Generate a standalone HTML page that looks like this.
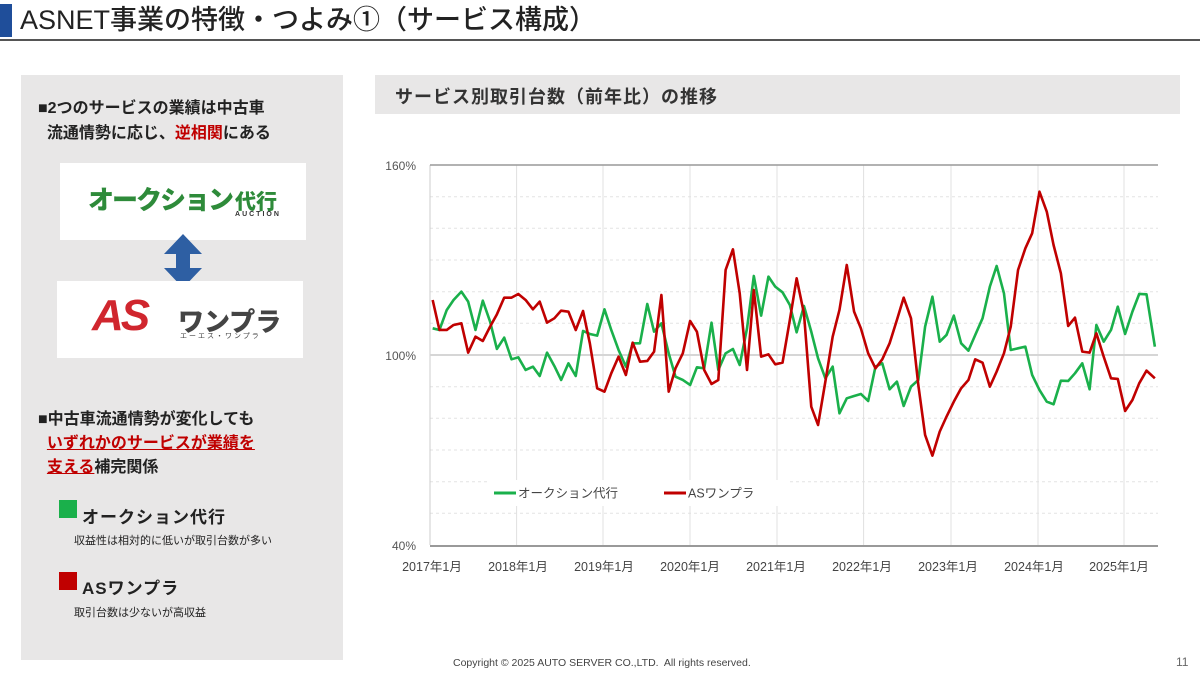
<!DOCTYPE html>
<html><head><meta charset="utf-8"><style>
body{margin:0;width:1200px;height:675px;background:#fff;position:relative;overflow:hidden;font-family:"Liberation Sans","Noto Sans CJK JP",sans-serif;color:#222}
.a{position:absolute;white-space:nowrap}
</style></head><body>
<div class="a" style="left:0;top:4px;width:12px;height:33px;background:#1f4e9a"></div>
<div class="a" style="left:20px;top:2px;font-size:27px;line-height:36px;color:#222;font-weight:500">ASNET事業の特徴・つよみ①（サービス構成）</div>
<div class="a" style="left:0;top:39px;width:1200px;height:2px;background:#555"></div>

<div class="a" style="left:21px;top:75px;width:322px;height:585px;background:#e8e7e7"></div>
<div class="a" style="left:38px;top:96px;font-size:16px;line-height:25px;font-weight:bold">■2つのサービスの業績は中古車<br>&nbsp;&nbsp;流通情勢に応じ、<span style="color:#c00000">逆相関</span>にある</div>
<div class="a" style="left:60px;top:163px;width:246px;height:77px;background:#fff"></div>
<div class="a" style="left:88px;top:182px;font-size:26px;font-weight:900;color:#2e8b3a;letter-spacing:-2px;line-height:36px">オークション<span style="display:inline-block;position:relative;font-size:21px;letter-spacing:0;margin-left:3px">代行<span style="position:absolute;left:0;top:26px;font-size:7px;color:#333;letter-spacing:2px;font-weight:bold;line-height:8px">AUCTION</span></span></div>
<svg class="a" style="left:160px;top:232px" width="46" height="58"><polygon points="23,2 42,22 30,22 30,36 42,36 23,56 4,36 16,36 16,22 4,22" fill="#2e5fa3"/></svg>
<div class="a" style="left:57px;top:281px;width:246px;height:77px;background:#fff"></div>
<div class="a" style="left:92px;top:292px;font-size:44px;font-weight:900;color:#d0262e;font-style:italic;letter-spacing:-3px;line-height:48px">AS</div>
<div class="a" style="left:178px;top:302px;font-size:26px;font-weight:900;color:#444">ワンプラ</div>
<div class="a" style="left:180px;top:331px;font-size:7px;color:#444;letter-spacing:2px">エーエス・ワンプラ</div>

<div class="a" style="left:38px;top:408px;font-size:16px;line-height:24px;font-weight:bold">■中古車流通情勢が変化しても<br>&nbsp;&nbsp;<span style="color:#c00000;text-decoration:underline">いずれかのサービスが業績を</span><br>&nbsp;&nbsp;<span style="color:#c00000;text-decoration:underline">支える</span>補完関係</div>
<div class="a" style="left:59px;top:500px;width:18px;height:18px;background:#1ab04b"></div>
<div class="a" style="left:82px;top:503px;font-size:17px;font-weight:bold;letter-spacing:1px">オークション代行</div>
<div class="a" style="left:74px;top:532px;font-size:11px">収益性は相対的に低いが取引台数が多い</div>
<div class="a" style="left:59px;top:572px;width:18px;height:18px;background:#c00000"></div>
<div class="a" style="left:82px;top:574px;font-size:17px;font-weight:bold;letter-spacing:1px">ASワンプラ</div>
<div class="a" style="left:74px;top:604px;font-size:11px">取引台数は少ないが高収益</div>

<div class="a" style="left:375px;top:75px;width:805px;height:39px;background:#e8e7e7"></div>
<div class="a" style="left:395px;top:83px;font-size:18px;font-weight:bold;color:#333;letter-spacing:1px">サービス別取引台数（前年比）の推移</div>

<svg class="a" style="left:0;top:0" width="1200" height="675">
<g stroke="#e3e3e3" stroke-width="1" stroke-dasharray="3,3">
<line x1="430" x2="1158" y1="196.7" y2="196.7"/><line x1="430" x2="1158" y1="228.3" y2="228.3"/><line x1="430" x2="1158" y1="260" y2="260"/><line x1="430" x2="1158" y1="291.7" y2="291.7"/><line x1="430" x2="1158" y1="323.3" y2="323.3"/><line x1="430" x2="1158" y1="386.7" y2="386.7"/><line x1="430" x2="1158" y1="418.3" y2="418.3"/><line x1="430" x2="1158" y1="450" y2="450"/><line x1="430" x2="1158" y1="481.7" y2="481.7"/><line x1="430" x2="1158" y1="513.3" y2="513.3"/>
</g>
<g stroke="#e0e0e0" stroke-width="1">
<line x1="516.6" x2="516.6" y1="165" y2="545"/><line x1="603" x2="603" y1="165" y2="545"/><line x1="690" x2="690" y1="165" y2="545"/><line x1="777" x2="777" y1="165" y2="545"/><line x1="863.6" x2="863.6" y1="165" y2="545"/><line x1="951" x2="951" y1="165" y2="545"/><line x1="1038" x2="1038" y1="165" y2="545"/><line x1="1124" x2="1124" y1="165" y2="545"/>
</g>
<line x1="430" x2="430" y1="165" y2="545" stroke="#ccc"/>
<line x1="430" x2="1158" y1="165" y2="165" stroke="#999" stroke-width="1.5"/>
<line x1="430" x2="1158" y1="355" y2="355" stroke="#d6d6d6" stroke-width="2"/>
<line x1="430" x2="1158" y1="546" y2="546" stroke="#999" stroke-width="2"/>
<g font-size="12" fill="#555" text-anchor="end"><text x="416" y="170">160%</text><text x="416" y="360">100%</text><text x="416" y="550">40%</text></g>
<g font-size="12.5" fill="#444" text-anchor="middle"><text x="432" y="571">2017年1月</text><text x="518" y="571">2018年1月</text><text x="604" y="571">2019年1月</text><text x="690" y="571">2020年1月</text><text x="776" y="571">2021年1月</text><text x="862" y="571">2022年1月</text><text x="948" y="571">2023年1月</text><text x="1034" y="571">2024年1月</text><text x="1119" y="571">2025年1月</text></g>
<g transform="translate(370,150) scale(0.5222,0.3333)" fill="none" stroke-width="2.6" stroke-linejoin="round">
<polyline vector-effect="non-scaling-stroke" stroke="#1ab04b" points="120,535 133,540 147,480 160,450 175,425 188,455 202,540 216,452 230,515 243,597 257,563 271,628 284,622 298,660 312,650 325,678 339,608 353,648 366,690 380,640 394,678 408,543 421,552 435,557 449,478 462,540 476,600 490,650 503,580 517,580 531,462 544,545 558,520 572,610 585,680 599,690 613,705 626,652 640,655 654,518 667,660 681,610 695,597 708,645 722,535 735,378 749,497 763,380 776,410 790,427 804,465 817,547 831,468 845,545 858,625 872,685 886,650 899,790 913,745 927,738 940,732 954,753 968,650 981,640 995,718 1009,695 1022,768 1036,710 1050,690 1063,530 1077,440 1091,575 1104,555 1118,497 1132,580 1146,602 1159,555 1173,505 1187,410 1200,348 1214,430 1227,600 1241,595 1255,590 1268,675 1282,720 1296,755 1309,763 1323,692 1337,693 1350,670 1364,640 1378,718 1391,525 1405,575 1419,540 1432,470 1446,552 1460,485 1473,432 1487,433 1503,590"/>
<polyline vector-effect="non-scaling-stroke" stroke="#c00000" points="120,450 133,540 147,540 160,525 175,520 188,608 202,560 216,573 230,530 243,493 257,443 271,443 284,432 298,450 312,478 325,455 339,518 353,505 366,482 380,485 394,540 408,483 421,580 435,715 449,725 462,670 476,620 490,675 503,578 517,635 531,633 544,605 558,435 572,725 585,655 599,610 613,513 626,545 640,660 654,702 667,690 681,360 695,298 708,430 722,660 735,420 749,620 763,613 776,643 790,638 804,510 817,385 831,490 845,770 858,825 872,695 886,560 899,480 913,345 927,485 940,535 954,610 968,655 981,628 995,580 1009,510 1022,443 1036,505 1050,705 1063,855 1077,917 1091,845 1104,800 1118,755 1132,715 1146,690 1159,628 1173,638 1187,710 1200,665 1214,610 1227,530 1241,360 1255,295 1268,250 1282,125 1296,185 1309,285 1323,370 1337,528 1350,503 1364,605 1378,608 1391,550 1405,620 1419,685 1432,687 1446,783 1460,750 1473,700 1487,662 1503,685"/>
</g>
<rect x="488" y="480" width="300" height="26" fill="#fff"/>
<line x1="494" x2="516" y1="493" y2="493" stroke="#1ab04b" stroke-width="3"/>
<text x="518" y="497.5" font-size="12.5" fill="#444">オークション代行</text>
<line x1="664" x2="686" y1="493" y2="493" stroke="#c00000" stroke-width="3"/>
<text x="688" y="497.5" font-size="12.5" fill="#444">ASワンプラ</text>
</svg>
<div class="a" style="left:453px;top:657px;font-size:10.5px;color:#444">Copyright © 2025 AUTO SERVER CO.,LTD.&nbsp; All rights reserved.</div>
<div class="a" style="left:1176px;top:655px;font-size:12px;color:#666">11</div>
</body></html>
